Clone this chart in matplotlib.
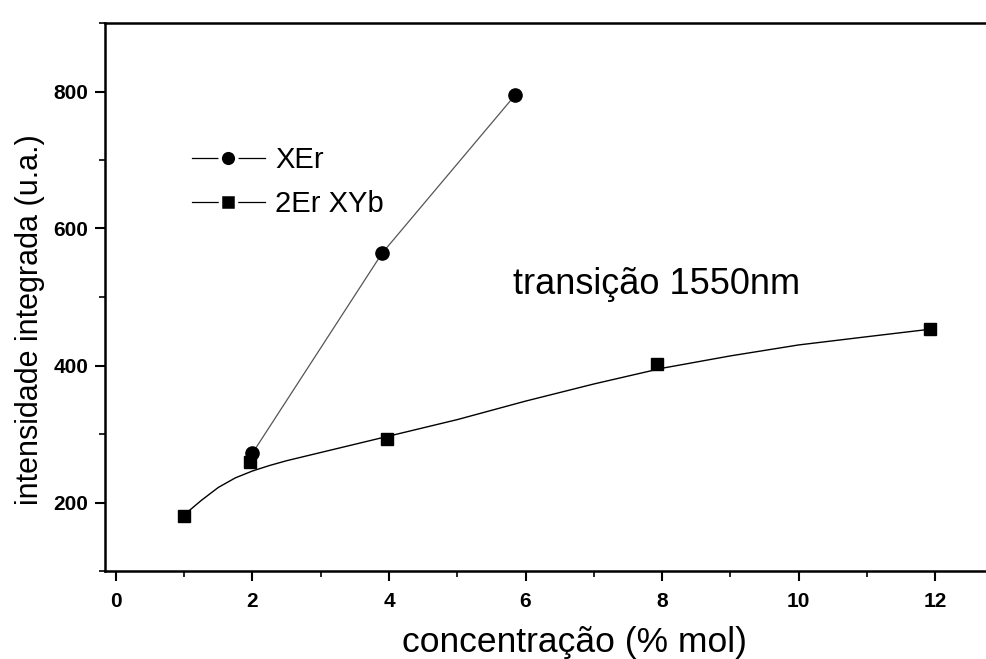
import matplotlib
matplotlib.use("Agg")
import matplotlib.pyplot as plt
from matplotlib.ticker import MultipleLocator
from matplotlib.lines import Line2D

plt.rcParams['font.family'] = ['Liberation Sans', 'DejaVu Sans']

# Measured points
xer_x = [2.0, 3.9, 5.85]
xer_y = [272, 564, 795]

yb_x = [1.0, 1.97, 3.97, 7.93, 11.93]
yb_y = [181, 259, 293, 402, 453]

# Smoothed trend drawn through the 2Er XYb series
fit_x = [1.0, 1.25, 1.5, 1.75, 2.0, 2.25, 2.5, 3.0, 3.5, 4.0, 5.0, 6.0, 7.0, 8.0, 9.0, 10.0, 11.0, 11.93]
fit_y = [182, 203, 222, 236, 246, 254, 261, 273, 285, 297, 321, 348, 373, 396, 414, 430, 442, 453]

x_ticks = [0, 2, 4, 6, 8, 10, 12]
y_ticks = [200, 400, 600, 800]

W, H = 987, 659
fig = plt.figure(figsize=(W / 100, H / 100), dpi=100)
ax = fig.add_axes([105 / W, 1 - 571 / H, 1 - 105 / W, (571 - 23) / H])

ax.plot(xer_x, xer_y, color='#555555', lw=0.9, zorder=2)
ax.plot(xer_x, xer_y, 'o', color='black', ms=9.5, zorder=3)
ax.plot(fit_x, fit_y, color='black', lw=1.0, zorder=2)
ax.plot(yb_x, yb_y, 's', color='black', ms=8.5, zorder=3)

ax.set_xlim(-0.16, 12.76)
ax.set_ylim(100, 900)
ax.set_xticks(x_ticks)
ax.set_yticks(y_ticks)
ax.xaxis.set_minor_locator(MultipleLocator(1))
ax.yaxis.set_minor_locator(MultipleLocator(100))

for side in ('left', 'bottom', 'top'):
    ax.spines[side].set_linewidth(1.8)
ax.spines['right'].set_visible(False)

ax.tick_params(which='major', direction='out', length=7, width=1.5, labelsize=15)
ax.tick_params(axis='x', which='major', pad=8)
ax.tick_params(axis='y', which='major', pad=5)
ax.tick_params(which='minor', direction='out', length=4, width=1.2)
for lab in ax.get_xticklabels() + ax.get_yticklabels():
    lab.set_fontweight('bold')

xl = ax.set_xlabel('concentração (% mol)', fontsize=25.5)
xl.set_va('baseline')
ax.xaxis.set_label_coords((575 - 105) / 882, (571 - 652) / 548)

yl = ax.set_ylabel('intensidade integrada (u.a.)', fontsize=22)
yl.set_va('center')
ax.yaxis.set_label_coords((30 - 105) / 882, (571 - 320) / 548)

ax.text(5.82, 504, 'transição 1550nm', fontsize=26, va='baseline', ha='left')

# Legend keys: a white rim around each marker leaves a small gap in the line
handles = [
    Line2D([], [], color='black', lw=0.9, marker='o', ms=12, mfc='black',
           mec='white', mew=2.5),
    Line2D([], [], color='black', lw=0.9, marker='s', ms=11, mfc='black',
           mec='white', mew=2.5),
]
ax.legend(handles, ['XEr', '2Er XYb'], loc='upper left',
          bbox_to_anchor=(192 / W, 1 - 146 / H), bbox_transform=fig.transFigure,
          frameon=False, fontsize=21, handlelength=2.5, handletextpad=0.35,
          labelspacing=0.55, borderaxespad=0, borderpad=0)

fig.savefig('out.png', dpi=100)
